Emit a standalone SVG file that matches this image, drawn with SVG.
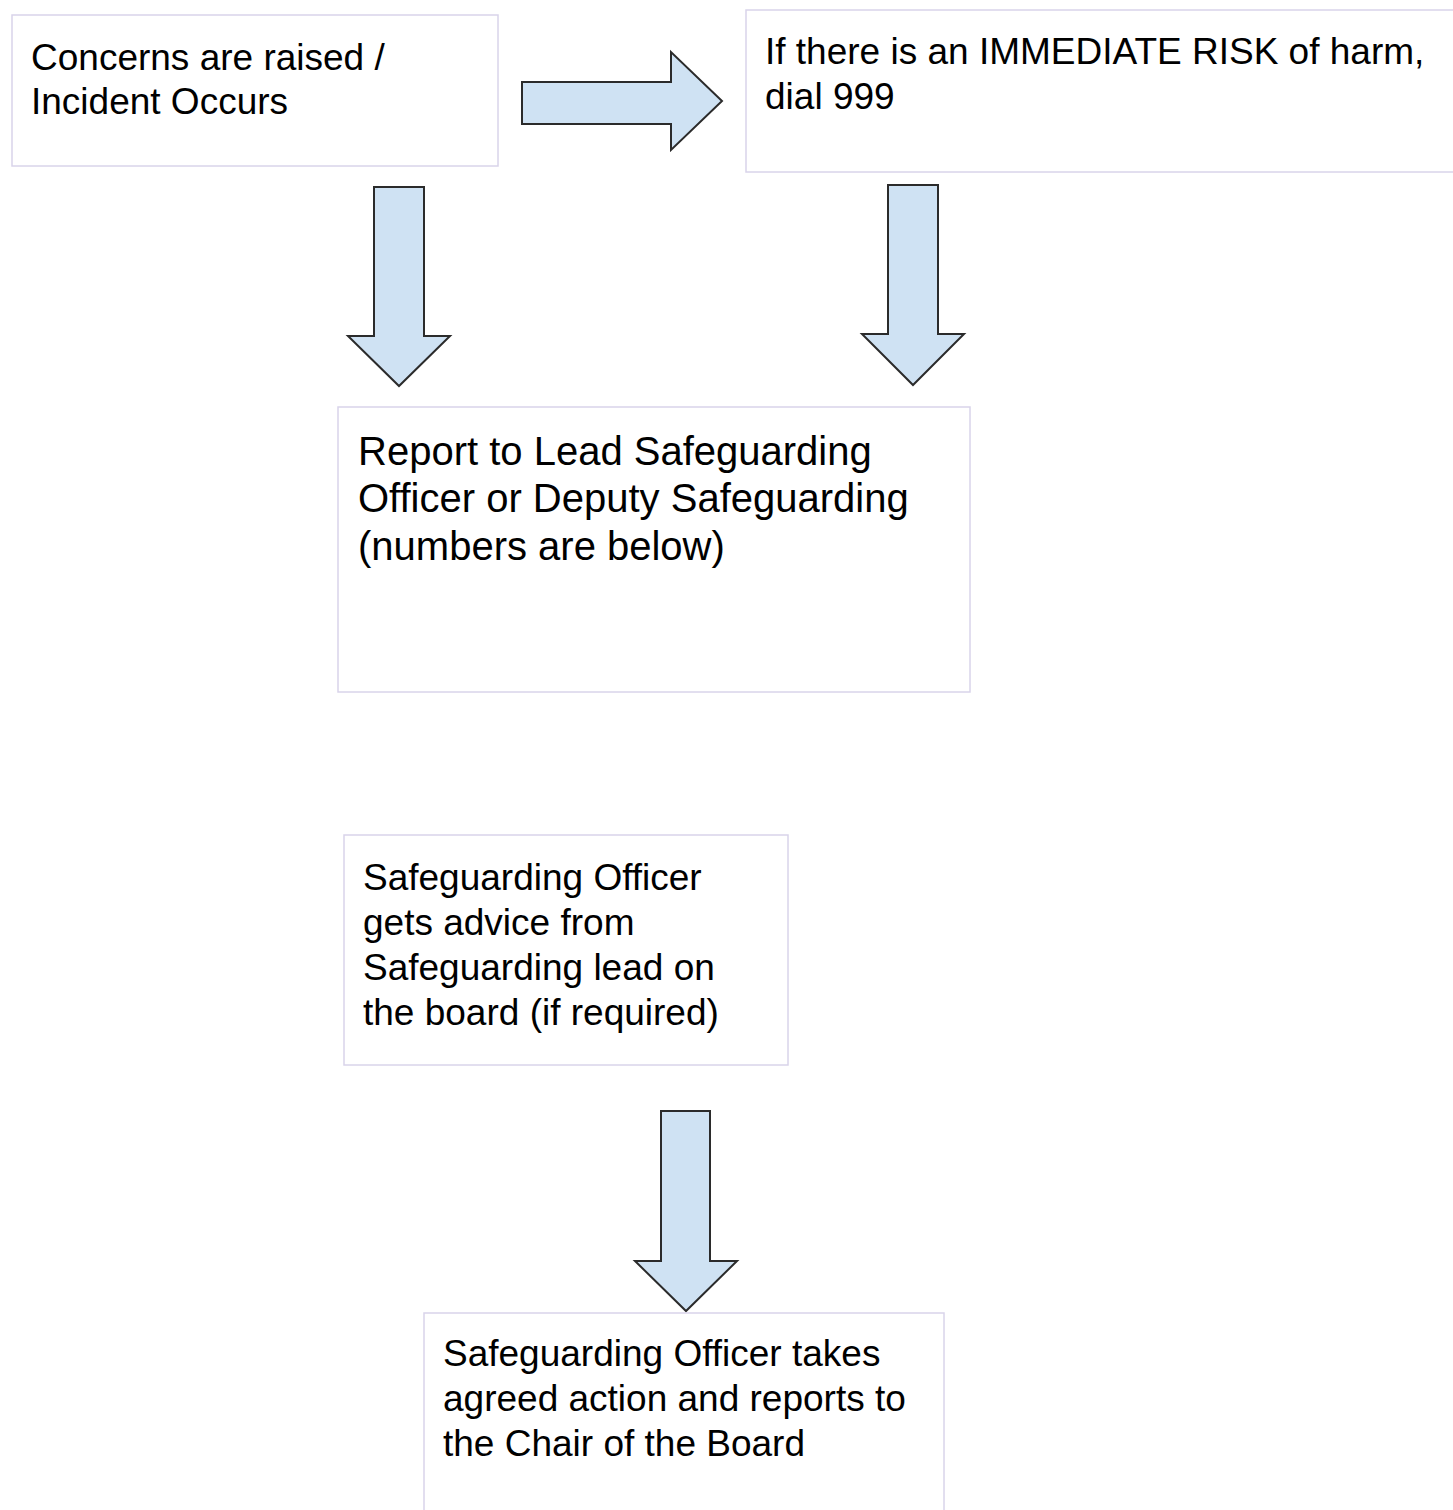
<svg xmlns="http://www.w3.org/2000/svg" width="1453" height="1510" viewBox="0 0 1453 1510">
<style>
.box{fill:#ffffff;stroke:#d9d4ea;stroke-width:1.5}
.arr{fill:#cfe2f3;stroke:#2b2b2b;stroke-width:2;stroke-linejoin:miter}
.t{font-family:"Liberation Sans",Arial,sans-serif;font-size:37px;fill:#000000}
.t40{font-size:40px}
</style>
<rect width="1453" height="1510" fill="#ffffff"/>
<g id="connectors">
<polygon class="arr" points="522,82 671,82 671,52 722,101 671,150 671,124 522,124"/>
<polygon class="arr" points="374,187 424,187 424,336 450,336 399,386 348,336 374,336"/>
<polygon class="arr" points="888,185 938,185 938,334 964,334 913,385 862,334 888,334"/>
<polygon class="arr" points="661,1111 710,1111 710,1261 737,1261 686,1311 635,1261 661,1261"/>
</g>
<g id="node1">
<rect class="box" x="12" y="15" width="486" height="151"/>
<text class="t" x="31" y="70">Concerns are raised /</text>
<text class="t" x="31" y="114">Incident Occurs</text>
</g>
<g id="node2">
<rect class="box" x="746" y="10" width="720" height="162"/>
<text class="t" x="765" y="64">If there is an IMMEDIATE RISK of harm,</text>
<text class="t" x="765" y="109">dial 999</text>
</g>
<g id="node3">
<rect class="box" x="338" y="407" width="632" height="285"/>
<text class="t t40" x="358" y="465">Report to Lead Safeguarding</text>
<text class="t t40" x="358" y="512">Officer or Deputy Safeguarding</text>
<text class="t t40" x="358" y="560">(numbers are below)</text>
</g>
<g id="node4">
<rect class="box" x="344" y="835" width="444" height="230"/>
<text class="t" x="363" y="890">Safeguarding Officer</text>
<text class="t" x="363" y="935">gets advice from</text>
<text class="t" x="363" y="980">Safeguarding lead on</text>
<text class="t" x="363" y="1025">the board (if required)</text>
</g>
<g id="node5">
<rect class="box" x="424" y="1313" width="520" height="210"/>
<text class="t" x="443" y="1366">Safeguarding Officer takes</text>
<text class="t" x="443" y="1411">agreed action and reports to</text>
<text class="t" x="443" y="1456">the Chair of the Board</text>
</g>
</svg>
